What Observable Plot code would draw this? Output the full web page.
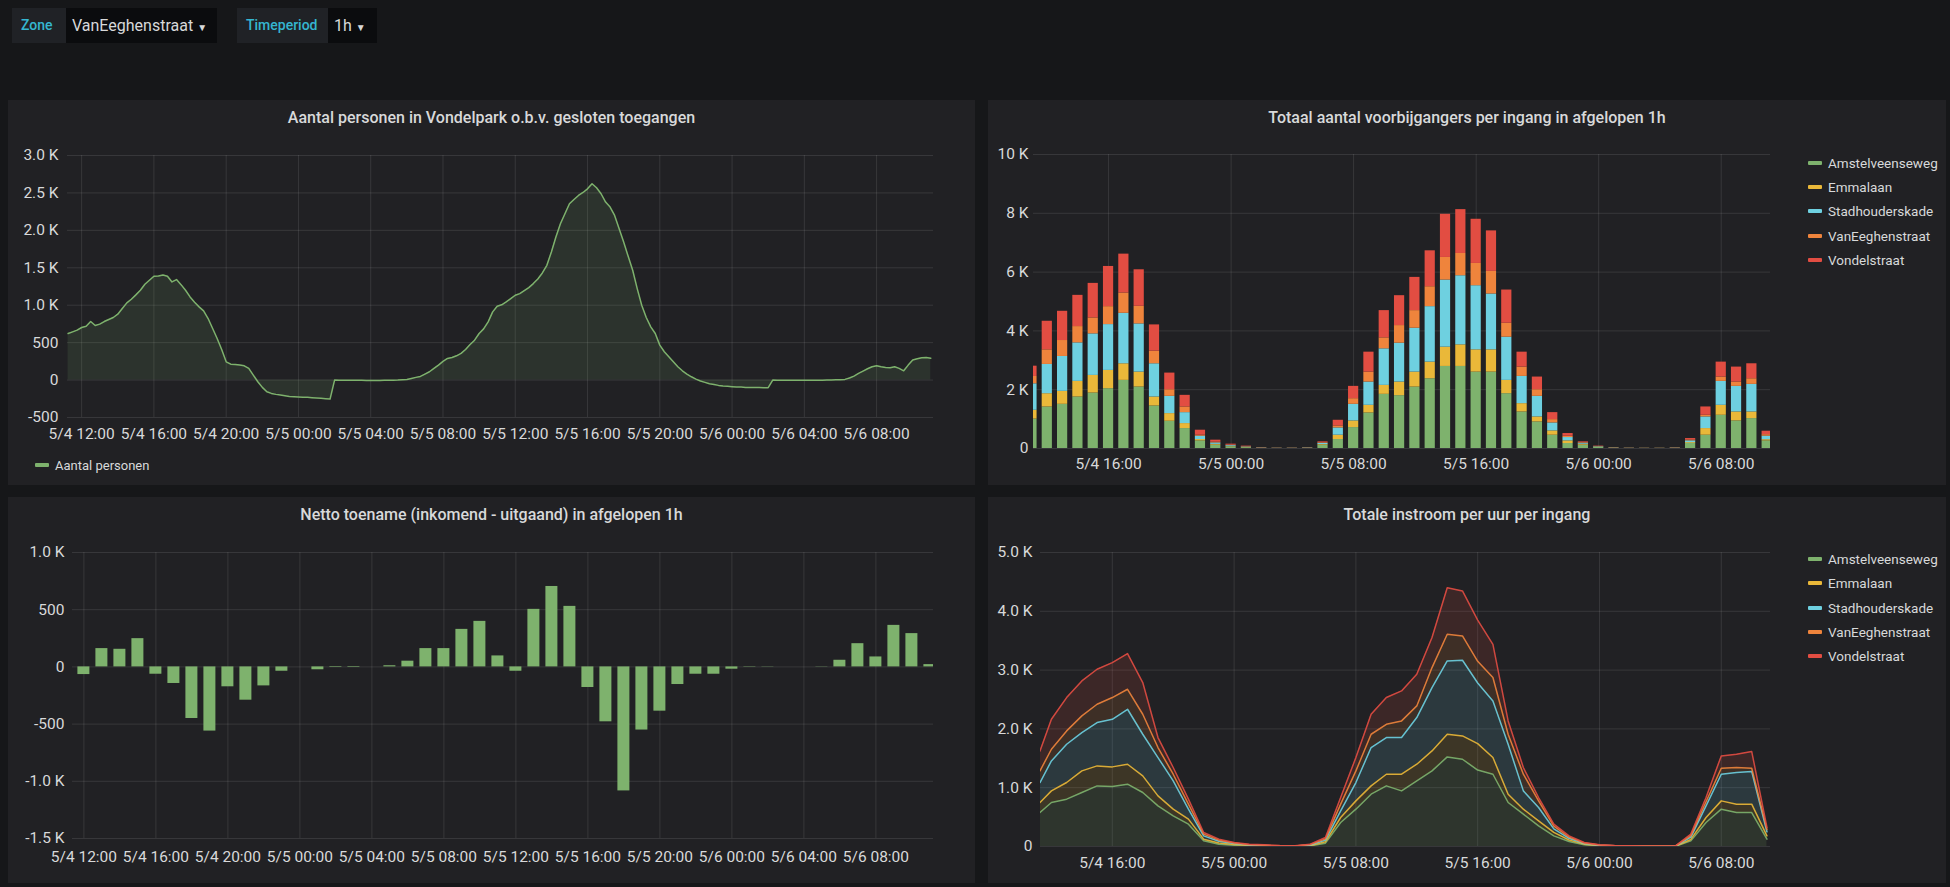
<!DOCTYPE html>
<html><head><meta charset="utf-8">
<script src="https://cdn.jsdelivr.net/npm/d3@7"></script>
<script src="https://cdn.jsdelivr.net/npm/@observablehq/plot@0.6"></script>
<style>
html,body{margin:0;padding:0;background:#161719;width:1950px;height:887px;overflow:hidden;font-family:Roboto,"Noto Sans",sans-serif;color:#d8d9da}
.panel{position:absolute;background:#212124}
.title{position:absolute;left:0;right:0;top:8px;height:20px;line-height:20px;text-align:center;font-size:16px;font-weight:500;color:#d8d9da}
.plot{position:absolute;left:0}
.plot svg{overflow:visible}
.row{position:absolute;display:flex;align-items:center;white-space:nowrap;font-size:13.5px;color:#d8d9da;height:18px}
.sw{width:14px;height:4px;border-radius:1px;margin-right:6px}
.lbl{position:absolute;top:8px;height:35px;line-height:35px;background:#202226;color:#35b6d0;font-size:14px;font-weight:500;box-sizing:border-box;padding-left:9px}
.val{position:absolute;top:8px;height:35px;line-height:35px;background:#0b0c0e;color:#d8d9da;font-size:16px;box-sizing:border-box;padding-left:6px}
</style></head><body>
<div class="lbl" style="left:12px;width:54px">Zone</div>
<div class="val" style="left:66px;width:151px">VanEeghenstraat <span style="font-size:10px">▼</span></div>
<div class="lbl" style="left:237px;width:91px">Timeperiod</div>
<div class="val" style="left:328px;width:49px">1h <span style="font-size:10px">▼</span></div>

<div class="panel" id="p1" style="left:8px;top:100px;width:967px;height:385px">
  <div class="title">Aantal personen in Vondelpark o.b.v. gesloten toegangen</div>
  <div class="plot" id="plot1" style="top:30px"></div>
  <div class="row" style="left:27px;top:356px;font-size:13px"><div class="sw" style="background:#7EB26D"></div>Aantal personen</div>
</div>
<div class="panel" id="p2" style="left:988px;top:100px;width:958px;height:385px">
  <div class="title">Totaal aantal voorbijgangers per ingang in afgelopen 1h</div>
  <div class="plot" id="plot2" style="top:30px"></div>
  <div id="leg2"></div>
</div>
<div class="panel" id="p3" style="left:8px;top:497px;width:967px;height:386px">
  <div class="title">Netto toename (inkomend - uitgaand) in afgelopen 1h</div>
  <div class="plot" id="plot3" style="top:30px"></div>
</div>
<div class="panel" id="p4" style="left:988px;top:497px;width:958px;height:386px">
  <div class="title">Totale instroom per uur per ingang</div>
  <div class="plot" id="plot4" style="top:30px"></div>
  <div id="leg4"></div>
</div>

<script>
// ---------------- DATA ----------------
const zones = ["Amstelveenseweg","Emmalaan","Stadhouderskade","VanEeghenstraat","Vondelstraat"];

// Panel 1: persons in park, 15-minute samples from 2020-05-04 11:15
const personen = [
 622,644,667,702,720,782,729,747,782,809,
 836,880,955,1031,1080,1138,1200,1280,1333,1387,
 1391,1404,1387,1311,1342,1275,1200,1111,1040,978,
 924,822,689,555,409,244,213,209,200,191,
 156,67,-22,-98,-156,-178,-191,-200,-209,-218,
 -222,-227,-231,-231,-235,-240,-244,-249,-253,0,
 -2,-3,-3,-4,-4,-4,-5,-5,-5,-5,
 -4,-4,-2,0,4,9,22,36,49,80,
 111,156,200,249,289,302,324,356,409,476,
 533,622,684,778,911,987,1005,1044,1089,1133,
 1155,1195,1235,1289,1351,1431,1533,1711,1911,2089,
 2222,2355,2413,2466,2506,2555,2622,2569,2489,2378,
 2311,2200,2022,1844,1653,1467,1222,1000,836,711,
 622,467,378,311,244,178,124,80,44,13,
 -13,-31,-49,-58,-71,-80,-84,-89,-93,-93,
 -98,-98,-98,-98,-102,-102,0,-1,-1,-2,
 -2,-2,-2,-2,-2,-2,-1,-1,0,1,
 3,5,9,27,53,89,120,151,178,191,
 178,169,164,178,156,124,200,267,284,298,
 302,293];

// Panel 2: passers-by per entrance, hourly 2020-05-04 11:00 .. 2020-05-06 11:00
const pass_Amstelveenseweg = [1000,1412,1503,1752,1887,2034,2317,2091,1446,927,678,260,113,60,30,12,8,8,14,113,305,712,1209,1842,1797,2090,2373,2791,2791,2599,2599,1865,1243,904,452,170,113,35,14,8,6,6,12,170,452,1130,938,1017,260];
const pass_Emmalaan = [300,452,441,531,599,622,565,508,306,260,170,45,27,15,8,3,2,2,3,22,147,226,260,305,463,509,565,656,735,757,757,452,283,170,147,90,32,10,4,2,2,2,3,30,226,339,305,226,40];
const pass_Stadhouderskade = [900,995,1186,1310,1413,1559,1717,1639,1130,587,372,113,50,25,14,7,3,3,7,40,248,565,791,1243,1322,1492,1887,2282,2350,2181,1899,1469,926,700,271,113,35,15,6,3,2,2,5,60,396,814,870,938,118];
const pass_VanEeghenstraat = [250,497,543,554,542,610,689,598,429,226,193,34,25,15,8,4,2,2,3,20,68,192,339,373,599,599,678,769,757,757,768,474,317,226,113,45,20,8,4,3,2,2,4,30,56,147,147,192,52];
const pass_Vondelstraat = [350,972,994,1062,1175,1367,1323,1243,893,565,395,170,68,32,20,8,5,5,7,31,192,418,678,927,1017,1130,1221,1469,1492,1503,1379,1130,508,430,237,91,26,12,6,4,3,3,6,49,283,508,509,509,118];

// Panel 3: net increase, hourly 2020-05-04 11:00 .. 2020-05-06 11:00
const netto = [87,-67,160,154,247,-64,-145,-451,-561,-174,-291,-166,-38,0,-25,-5,-5,0,10,50,160,160,328,398,96,-38,503,703,529,-180,-480,-1084,-552,-387,-154,-64,-64,-20,-3,-2,0,0,-2,58,203,87,363,291,20];

// Panel 4: inflow per hour per entrance; first sample 2020-05-04 11:15, then hourly 12:00 .. 2020-05-06 11:00
const in_Amstelveenseweg = [578,748,805,918,1031,1020,1060,918,691,521,380,96,40,23,12,8,4,3,10,57,408,635,890,1031,946,1116,1286,1524,1484,1300,1229,748,550,351,181,85,28,12,6,4,3,3,4,96,408,635,578,578,125];
const in_Emmalaan = [170,198,283,368,340,334,339,283,170,114,85,29,20,12,6,4,2,2,5,23,85,141,141,198,283,283,340,385,397,450,284,142,85,85,59,25,12,4,2,2,1,1,2,24,85,141,142,142,55];
const in_Stadhouderskade = [340,510,651,652,737,810,935,708,652,481,170,56,30,15,7,6,3,2,10,28,113,312,652,624,624,794,1077,1247,1286,1030,963,849,311,227,60,30,12,4,3,2,2,2,2,40,198,453,538,555,70];
const in_VanEeghenstraat = [198,198,227,283,311,369,340,340,170,113,85,29,18,10,5,4,2,2,7,22,114,198,226,226,283,198,340,453,414,370,397,170,283,113,45,20,8,4,2,2,2,2,2,25,69,102,85,56,40];
const in_Vondelstraat = [340,510,567,595,595,595,607,539,170,114,85,28,17,8,10,6,4,2,8,23,113,227,340,454,510,538,510,793,765,700,566,227,114,57,35,21,8,4,3,2,2,2,2,25,73,210,227,284,33];

// Tick labels
const xTickLabels4h = ["5/4 12:00","5/4 16:00","5/4 20:00","5/5 00:00","5/5 04:00","5/5 08:00","5/5 12:00","5/5 16:00","5/5 20:00","5/6 00:00","5/6 04:00","5/6 08:00"];
const xTickLabels8h = ["5/4 16:00","5/5 00:00","5/5 08:00","5/5 16:00","5/6 00:00","5/6 08:00"];
const yTicks1 = [-500,0,500,1000,1500,2000,2500,3000];
const yLabels1 = ["-500","0","500","1.0 K","1.5 K","2.0 K","2.5 K","3.0 K"];
const yTicks2 = [0,2000,4000,6000,8000,10000];
const yLabels2 = ["0","2 K","4 K","6 K","8 K","10 K"];
const yTicks3 = [-1500,-1000,-500,0,500,1000];
const yLabels3 = ["-1.5 K","-1.0 K","-500","0","500","1.0 K"];
const yTicks4 = [0,1000,2000,3000,4000,5000];
const yLabels4 = ["0","1.0 K","2.0 K","3.0 K","4.0 K","5.0 K"];

// ---------------- STYLE ----------------
const zoneColors = ["#7EB26D","#EAB839","#6ED0E0","#EF843C","#E24D42"];
const green = "#7EB26D";
const textColor = "#d8d9da";
const axisFont = 15.5;

// ---------------- BUILD ----------------
const parseTick = s => d3.timeParse("%Y %m/%d %H:%M")("2020 " + s);
const D = (d, h, m = 0) => new Date(2020, 4, d, h, m);
const hourAt = k => new Date(2020, 4, 4, 11 + k, 0);

const p1data = personen.map((v, i) => ({t: new Date(2020, 4, 4, 11, 15 + 15 * i), v}));
const passSeries = [pass_Amstelveenseweg, pass_Emmalaan, pass_Stadhouderskade, pass_VanEeghenstraat, pass_Vondelstraat];
const p2data = [];
for (let k = 0; k < netto.length; k++) zones.forEach((z, j) => p2data.push({t: hourAt(k), s: z, v: passSeries[j][k]}));
const p3data = netto.map((v, k) => ({t: hourAt(k), v}));
const inSeries = [in_Amstelveenseweg, in_Emmalaan, in_Stadhouderskade, in_VanEeghenstraat, in_Vondelstraat];
const p4data = [];
for (let k = 0; k < in_Amstelveenseweg.length; k++) {
  const t = k === 0 ? D(4, 11, 15) : hourAt(k);
  zones.forEach((z, j) => p4data.push({t, s: z, v: inSeries[j][k]}));
}
const half = 20 * 60 * 1000;

function makePlot(o) {
  const xt = o.xTickLabels.map(parseTick);
  return Plot.plot({
    width: o.width, height: o.height,
    marginLeft: o.ml, marginRight: o.mr, marginTop: o.mt, marginBottom: o.mb,
    style: {background: "transparent", color: textColor, fontFamily: "Roboto, sans-serif", fontSize: axisFont + "px"},
    x: {type: "time", domain: o.xDomain},
    y: {domain: o.yDomain},
    color: {domain: zones, range: zoneColors},
    marks: [
      Plot.gridX(xt, {stroke: "#ffffff", strokeOpacity: 0.1}),
      Plot.gridY(o.yTicks, {stroke: "#ffffff", strokeOpacity: 0.1}),
      ...o.marks,
      Plot.axisX(xt, {tickSize: 0, tickPadding: o.xPad, fontSize: axisFont, fill: textColor, label: null,
        tickFormat: d => o.xTickLabels[xt.findIndex(e => +e === +d)]}),
      Plot.axisY(o.yTicks, {tickSize: 0, tickPadding: o.yPad, fontSize: axisFont, fill: textColor, label: null,
        tickFormat: d => o.yLabels[o.yTicks.indexOf(d)]})
    ]
  });
}

document.getElementById("plot1").append(makePlot({
  width: 967, height: 330, ml: 59, mr: 42, mt: 25, mb: 43,
  xDomain: [D(4, 11, 13), D(6, 11, 9)], xTickLabels: xTickLabels4h,
  yDomain: [-500, 3000], yTicks: yTicks1, yLabels: yLabels1, xPad: 10, yPad: 9,
  marks: [
    Plot.areaY(p1data, {x: "t", y1: 0, y2: "v", fill: green, fillOpacity: 0.13}),
    Plot.lineY(p1data, {x: "t", y: "v", stroke: green, strokeWidth: 1.5})
  ]
}));

document.getElementById("plot2").append(makePlot({
  width: 958, height: 355, ml: 45, mr: 176, mt: 24, mb: 37,
  xDomain: [D(4, 11, 6), D(6, 11, 13)], xTickLabels: xTickLabels8h,
  yDomain: [0, 10000], yTicks: yTicks2, yLabels: yLabels2, xPad: 9, yPad: 5,
  marks: [
    Plot.rectY(p2data, {x1: d => new Date(+d.t - half), x2: d => new Date(+d.t + half), y: "v", fill: "s", clip: true})
  ]
}));

document.getElementById("plot3").append(makePlot({
  width: 967, height: 356, ml: 64, mr: 42, mt: 25, mb: 45,
  xDomain: [D(4, 11, 22), D(6, 11, 12)], xTickLabels: xTickLabels4h,
  yDomain: [-1500, 1000], yTicks: yTicks3, yLabels: yLabels3, xPad: 12, yPad: 8,
  marks: [
    Plot.rectY(p3data, {x1: d => new Date(+d.t - half), x2: d => new Date(+d.t + half), y1: 0, y2: "v", fill: green, clip: true})
  ]
}));

document.getElementById("plot4").append(makePlot({
  width: 958, height: 356, ml: 52, mr: 176, mt: 25, mb: 37,
  xDomain: [D(4, 11, 17), D(6, 11, 14)], xTickLabels: xTickLabels8h,
  yDomain: [0, 5000], yTicks: yTicks4, yLabels: yLabels4, xPad: 10, yPad: 8,
  marks: [
    Plot.areaY(p4data, {x: "t", y: "v", z: "s", fill: "s", fillOpacity: 0.14, clip: true}),
    Plot.lineY(p4data, Plot.stackY2({x: "t", y: "v", z: "s", stroke: "s", strokeWidth: 1.5, strokeOpacity: 0.9, clip: true}))
  ]
}));

function legend(id, tops) {
  const el = document.getElementById(id);
  zones.forEach((z, i) => {
    const r = document.createElement("div");
    r.className = "row";
    r.style.left = "820px";
    r.style.top = (tops[i] - 9) + "px";
    r.innerHTML = `<div class="sw" style="background:${zoneColors[i]}"></div>${z}`;
    el.append(r);
  });
}
legend("leg2", [63, 87, 111, 136, 160]);
legend("leg4", [62, 86, 111, 135, 159]);
</script>
</body></html>
